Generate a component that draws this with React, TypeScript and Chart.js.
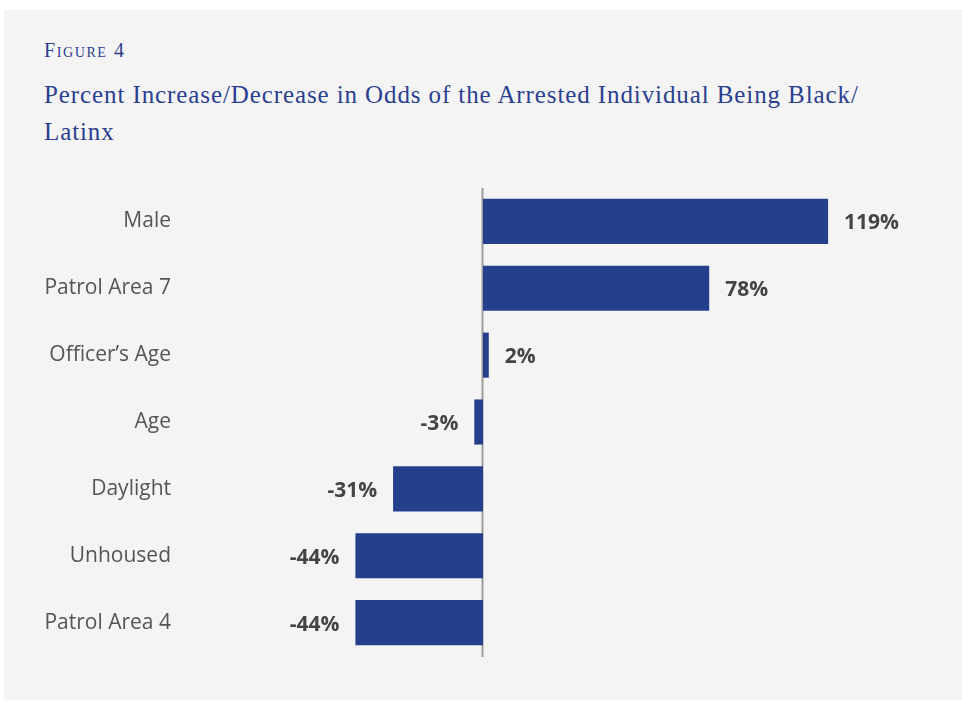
import { useEffect, useRef } from "react";
import { Chart, registerables } from "chart.js";

Chart.register(...registerables);

const figureLabel = "Figure 4";
const titleLines = [
  "Percent Increase/Decrease in Odds of the Arrested Individual Being Black/",
  "Latinx",
];
const categories = [
  "Male",
  "Patrol Area 7",
  "Officer’s Age",
  "Age",
  "Daylight",
  "Unhoused",
  "Patrol Area 4",
];
const values = [119, 78, 2, -3, -31, -44, -44];
const xMin = -100;
const xMax = 150;

const BLUE = "#243f8c";

const zeroLinePlugin = {
  id: "zeroLine",
  beforeDatasetsDraw(chart: any) {
    const { ctx, chartArea, scales } = chart;
    const x = scales.x.getPixelForValue(0);
    ctx.save();
    ctx.strokeStyle = "#9b9b9b";
    ctx.lineWidth = 2;
    ctx.beginPath();
    ctx.moveTo(x - 0.5, chartArea.top);
    ctx.lineTo(x - 0.5, chartArea.bottom + 1);
    ctx.stroke();
    ctx.restore();
  },
};

const valueLabelPlugin = {
  id: "valueLabels",
  afterDatasetsDraw(chart: any) {
    const { ctx } = chart;
    const meta = chart.getDatasetMeta(0);
    ctx.save();
    ctx.font = "bold 21px 'Open Sans'";
    ctx.fillStyle = "#444444";
    ctx.textBaseline = "middle";
    meta.data.forEach((bar: any, i: number) => {
      const v = values[i];
      const text = `${v}%`;
      if (v >= 0) {
        ctx.textAlign = "left";
        ctx.fillText(text, bar.x + 16, bar.y + 2);
      } else {
        ctx.textAlign = "right";
        ctx.fillText(text, bar.x - 16, bar.y + 2);
      }
    });
    ctx.restore();
  },
};

export default function App() {
  const canvasRef = useRef<HTMLCanvasElement | null>(null);

  useEffect(() => {
    if (!canvasRef.current) return;
    const chart = new Chart(canvasRef.current, {
      type: "bar",
      data: {
        labels: categories,
        datasets: [
          {
            data: values,
            backgroundColor: BLUE,
            borderWidth: 0,
            barPercentage: 0.675,
            categoryPercentage: 1,
          },
        ],
      },
      options: {
        indexAxis: "y",
        responsive: false,
        animation: false,
        devicePixelRatio: 1,
        layout: { padding: { top: 188, bottom: 46, left: 0, right: 44 } },
        plugins: {
          legend: { display: false },
          tooltip: { enabled: false },
          title: { display: false },
        },
        scales: {
          x: {
            type: "linear",
            min: xMin,
            max: xMax,
            display: false,
            grid: { display: false },
          },
          y: {
            grid: { display: false, drawTicks: false },
            border: { display: false },
            ticks: {
              padding: 22,
              color: "#555555",
              font: { family: "'Open Sans'", size: 21 },
            },
            afterFit(scale: any) {
              scale.width = 193;
            },
          },
        },
      },
      plugins: [zeroLinePlugin, valueLabelPlugin],
    });
    return () => chart.destroy();
  }, []);

  return (
    <div>
      <div
        style={{
          position: "absolute",
          left: 4,
          top: 10,
          width: 958,
          height: 690,
          background: "#f4f4f4",
        }}
      />
      <div
        style={{
          position: "absolute",
          left: 44,
          top: 38,
          fontFamily: "'Liberation Serif', serif",
          fontVariant: "small-caps",
          fontSize: 20,
          letterSpacing: 1.6,
          color: "#2a3f8f",
          lineHeight: "24px",
          whiteSpace: "nowrap",
        }}
      >
        {figureLabel}
      </div>
      <div
        style={{
          position: "absolute",
          left: 44,
          top: 76,
          fontFamily: "'Liberation Serif', serif",
          fontSize: 25,
          letterSpacing: 0.9,
          color: "#2a3f8f",
          lineHeight: "37px",
          whiteSpace: "nowrap",
        }}
      >
        {titleLines.map((t, i) => (
          <div key={i}>{t}</div>
        ))}
      </div>
      <canvas
        ref={canvasRef}
        width={962}
        height={702}
        style={{ position: "absolute", left: 0, top: 0, width: 962, height: 702 }}
      />
    </div>
  );
}
